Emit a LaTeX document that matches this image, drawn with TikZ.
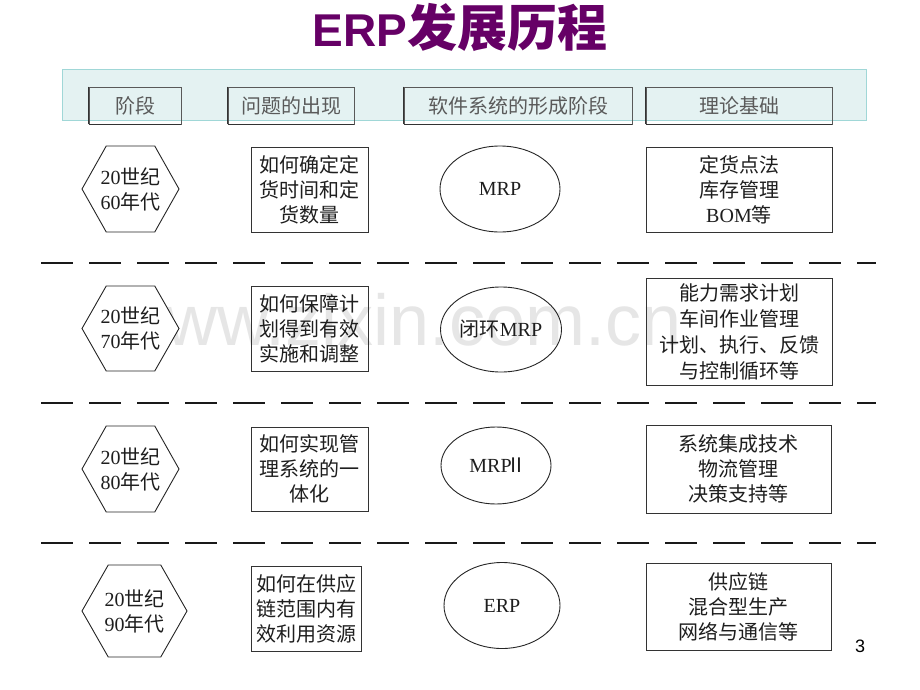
\documentclass[tikz,border=0pt]{standalone}
\usepackage{fontspec}
\setmainfont{Liberation Serif}
\newfontfamily\cjk{Noto Sans CJK SC}
\newfontfamily\arialf{Liberation Sans}
\usetikzlibrary{shapes.geometric}
\definecolor{titlepurple}{RGB}{102,0,102}
\definecolor{bandfill}{RGB}{228,242,242}
\definecolor{bandline}{RGB}{160,215,215}
\definecolor{txt}{RGB}{30,30,30}
\definecolor{hdrtxt}{RGB}{90,90,90}
\definecolor{wm}{RGB}{230,230,230}
\newcommand\zh[1]{{\cjk #1}}
\tikzset{
  body/.style={font=\fontsize{20}{25}\selectfont, align=center, text=txt, inner sep=0pt},
  framebox/.style={body, draw=black!80, line width=0.9pt},
  oval/.style={body, ellipse, draw=black!85, line width=0.9pt},
  hexline/.style={draw=black!85, line width=0.9pt, fill=white},
  hdrbox/.style={draw=black!65, line width=0.9pt, inner sep=0pt, font=\cjk\fontsize{20}{24}\selectfont, text=hdrtxt},
  sep/.style={line width=2.6pt, draw=black!90, dash pattern=on 32pt off 16pt},
}
\newcommand\hexshape[6]{% name, cx, cy, half width, half height, text
  \draw[hexline] (#2-#4,#3) -- (#2-#4/2,#3-#5) -- (#2+#4/2,#3-#5) -- (#2+#4,#3)
     -- (#2+#4/2,#3+#5) -- (#2-#4/2,#3+#5) -- cycle;
  \node[body] (#1) at (#2,#3) {#6};
}
\begin{document}
\begin{tikzpicture}[x=1pt,y=-1pt]
\useasboundingbox (0,0) rectangle (920,690);
\fill[white] (0,0) rectangle (920,690);

% watermark
\node[anchor=base east, text=wm, font=\arialf\fontsize{72}{72}\selectfont, inner sep=0pt] (wmark) at (682,345) {www.zixin.com.cn};

% title
\node[anchor=base, text=titlepurple, inner sep=0pt] (title) at (460,47)
  {{\arialf\bfseries\fontsize{46}{46}\selectfont ERP}{\cjk\bfseries\fontsize{50}{50}\selectfont 发展历程}};

% header band
\draw[fill=bandfill, draw=bandline, line width=0.8pt] (62,69) rectangle (866,120);
\node[hdrbox, minimum width=92pt, minimum height=37pt] (h1) at (135,105.5) {阶段};
\node[hdrbox, minimum width=126pt, minimum height=37pt] (h2) at (291,105.5) {问题的出现};
\node[hdrbox, minimum width=228pt, minimum height=37pt] (h3) at (518,105.5) {软件系统的形成阶段};
\node[hdrbox, minimum width=186pt, minimum height=37pt] (h4) at (739,105.5) {理论基础};
\foreach \n in {h1,h2,h3,h4}{
  \draw[black!80, line width=1.8pt] (\n.south west) -- (\n.south east);
  \draw[black!80, line width=1.4pt] (\n.north west) -- (\n.south west);
}

% row 1
\hexshape{a1}{130.5}{189}{48.5}{43}{20\zh{世纪}\\60\zh{年代}}
\node[framebox, minimum width=117pt, minimum height=85pt, font=\cjk\fontsize{20}{25}\selectfont] (b1) at (309.5,189.5) {如何确定定\\货时间和定\\货数量};
\node[oval, minimum width=120pt, minimum height=86pt, font=\fontsize{20}{25}\selectfont] (c1) at (500,189) {MRP};
\node[framebox, minimum width=186pt, minimum height=85pt] (d1) at (739,189.5) {\zh{定货点法}\\\zh{库存管理}\\BOM\zh{等}};

\coordinate (s1a) at (41,263); \coordinate (s1b) at (876,263);
\draw[sep] (s1a) -- (s1b);

% row 2
\hexshape{a2}{130.5}{328.5}{48.5}{42.5}{20\zh{世纪}\\70\zh{年代}}
\node[framebox, minimum width=117pt, minimum height=85pt, font=\cjk\fontsize{20}{25}\selectfont] (b2) at (309.5,328.5) {如何保障计\\划得到有效\\实施和调整};
\node[oval, minimum width=121pt, minimum height=85pt, font=\fontsize{20}{25}\selectfont] (c2) at (501,329.5) {\zh{闭环}MRP};
\node[framebox, minimum width=186pt, minimum height=107pt, font=\cjk\fontsize{20}{26}\selectfont] (d2) at (739,331.5) {能力需求计划\\车间作业管理\\计划、执行、反馈\\与控制循环等};

\coordinate (s2a) at (41,403); \coordinate (s2b) at (876,403);
\draw[sep] (s2a) -- (s2b);

% row 3
\hexshape{a3}{130.5}{469}{48.5}{43}{20\zh{世纪}\\80\zh{年代}}
\node[framebox, minimum width=117pt, minimum height=84pt, font=\cjk\fontsize{20}{25}\selectfont] (b3) at (309.5,469) {如何实现管\\理系统的一\\体化};
\node[oval, minimum width=110pt, minimum height=77pt, font=\fontsize{20}{25}\selectfont] (c3) at (496,465.5) {MRP\kern-5pt\zh{Ⅱ}\kern-4pt};
\node[framebox, minimum width=185pt, minimum height=88pt, font=\cjk\fontsize{20}{25}\selectfont] (d3) at (738.5,469) {系统集成技术\\物流管理\\决策支持等};

\coordinate (s3a) at (41,543); \coordinate (s3b) at (876,543);
\draw[sep] (s3a) -- (s3b);

% row 4
\hexshape{a4}{134.5}{611}{52.5}{46}{20\zh{世纪}\\90\zh{年代}}
\node[framebox, minimum width=110pt, minimum height=85pt, font=\cjk\fontsize{20}{25}\selectfont] (b4) at (306,608.5) {如何在供应\\链范围内有\\效利用资源};
\node[oval, minimum width=116pt, minimum height=86pt, font=\fontsize{20}{25}\selectfont] (c4) at (502,605.5) {ERP};
\node[framebox, minimum width=185pt, minimum height=87pt, font=\cjk\fontsize{20}{25}\selectfont] (d4) at (738.5,606.5) {供应链\\混合型生产\\网络与通信等};

% page number
\node[font=\arialf\fontsize{18}{18}\selectfont, text=black, inner sep=0pt] (pg) at (860,646) {3};
\end{tikzpicture}
\end{document}
